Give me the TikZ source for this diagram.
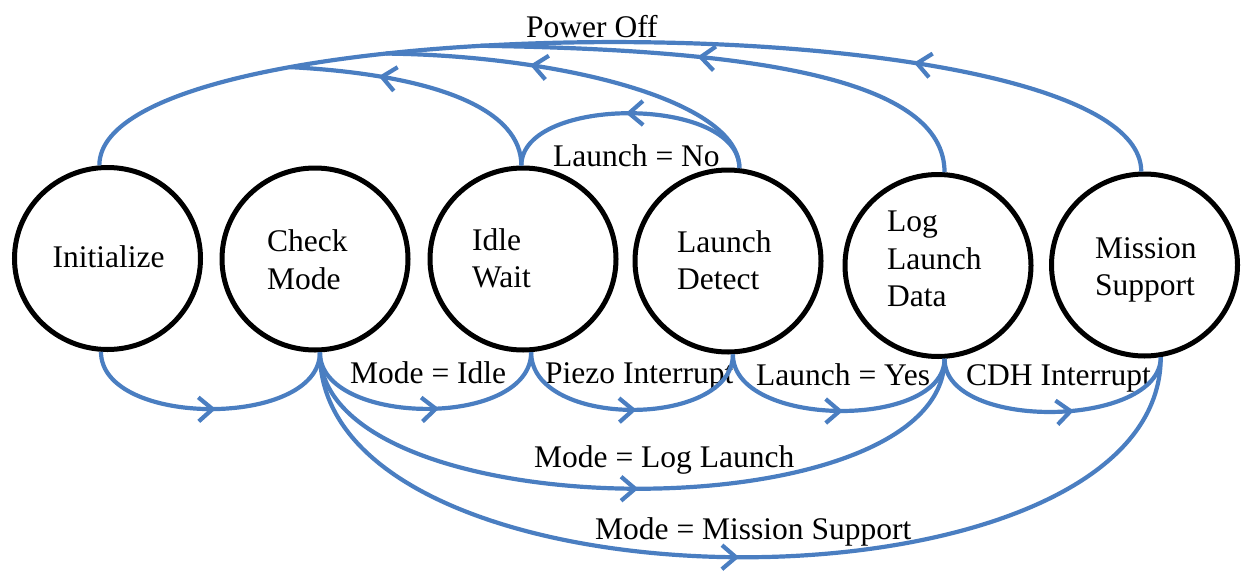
\documentclass[tikz,border=0pt]{standalone}
\usepackage{fontspec}
\setmainfont{Liberation Serif}
\usetikzlibrary{shapes.geometric,arrows.meta,decorations.markings}
\definecolor{flowblue}{RGB}{74,126,193}

\begin{document}
\begin{tikzpicture}[x=1pt,y=-1pt,
  state/.style={ellipse, draw=black, line width=5pt, minimum width=186pt,
                minimum height=182pt, inner sep=0pt},
  txt/.style={font=\fontsize{31.5}{37.5}\selectfont, inner sep=0pt, align=left},
  lbl/.style={font=\fontsize{31.5}{37.5}\selectfont, inner sep=0pt, anchor=base west},
  link/.style={draw=flowblue, line width=4.2pt, postaction={decorate},
    decoration={markings, mark=at position #1 with
      {\arrow{Straight Barb[length=14pt,width=24pt]}}}},
  link/.default=0.5]

\useasboundingbox (0,0) rectangle (1241,570);

% states
\node[state] (init)  at (107.5,258.5) {};
\node[state] (check) at (315,259)     {};
\node[state] (idle)  at (523,259)     {};
\node[state] (ld)    at (728,261)     {};
\node[state] (log)   at (938,265.5)   {};
\node[state] (ms)    at (1144.5,265)  {};

% state names
\node[txt]               (tInit)  at (108.5,257) {Initialize};
\node[txt, anchor=west]  (tCheck) at (267,259.8) {Check\\Mode};
\node[txt, anchor=west]  (tIdle)  at (472,258.3) {Idle\\Wait};
\node[txt, anchor=west]  (tLD)    at (677,260.3) {Launch\\Detect};
\node[txt, anchor=west]  (tLog)   at (887,259.3) {Log\\Launch\\Data};
\node[txt, anchor=west]  (tMS)    at (1095,270)  {Mission\\Support};

% transition labels
\node[lbl] (pOff) at (526,37)  {Power Off};
\node[lbl] (lNo)  at (553,166) {Launch = No};
\node[lbl] (mIdle) at (350,383) {Mode = Idle};
\node[lbl] (piezo) at (545,383) {Piezo Interrupt};
\node[lbl] (lYes) at (756,385) {Launch = Yes};
\node[lbl] (cdh)  at (966,385) {CDH Interrupt};
\node[lbl] (mLog) at (534,467) {Mode = Log Launch};
\node[lbl] (mMS)  at (595,539) {Mode = Mission Support};

% power off: outer arc back to Initialize, with the joins of the other branches
\draw[link=0.238] (ms.92) .. controls +(0,-172) and +(0,-165) .. (init.95)
  coordinate[pos=0.59] (jLog) coordinate[pos=0.655] (jLD) coordinate[pos=0.727] (jIdle);
\draw[link=0.575] (log.86) .. controls +(0,-92) and +(280,4) .. (jLog);
\draw[link=0.63]  (ld.83)  .. controls +(0,-68) and +(173,2) .. (jLD);
\draw[link=0.67]  (idle.91) .. controls +(0,-55) and +(150,8) .. (jIdle);

% launch = no
\draw[link=0.52] (ld.83) .. controls +(0,-73) and +(0,-70) .. (idle.91);

% forward transitions underneath
\draw[link=0.52] (init.266)  .. controls +(0,76) and +(0,76) .. (check.273);
\draw[link=0.55] (check.273) .. controls +(0,74) and +(0,77) .. (idle.-85);
\draw[link=0.52] (idle.-85)  .. controls +(0,77) and +(0,74) .. (ld.-87);
\draw[link=0.52] (ld.-87)    .. controls +(0,74) and +(0,71) .. (log.-86);
\draw[link=0.58] (log.-86)   .. controls +(0,73) and +(0,71) .. (ms.-80);
\draw[link=0.51] (check.273) .. controls +(0,179) and +(0,176) .. (log.-86);
\draw[link=0.5]  (check.273) .. controls +(0,272) and +(0,268) .. (ms.-80);
\end{tikzpicture}
\end{document}
